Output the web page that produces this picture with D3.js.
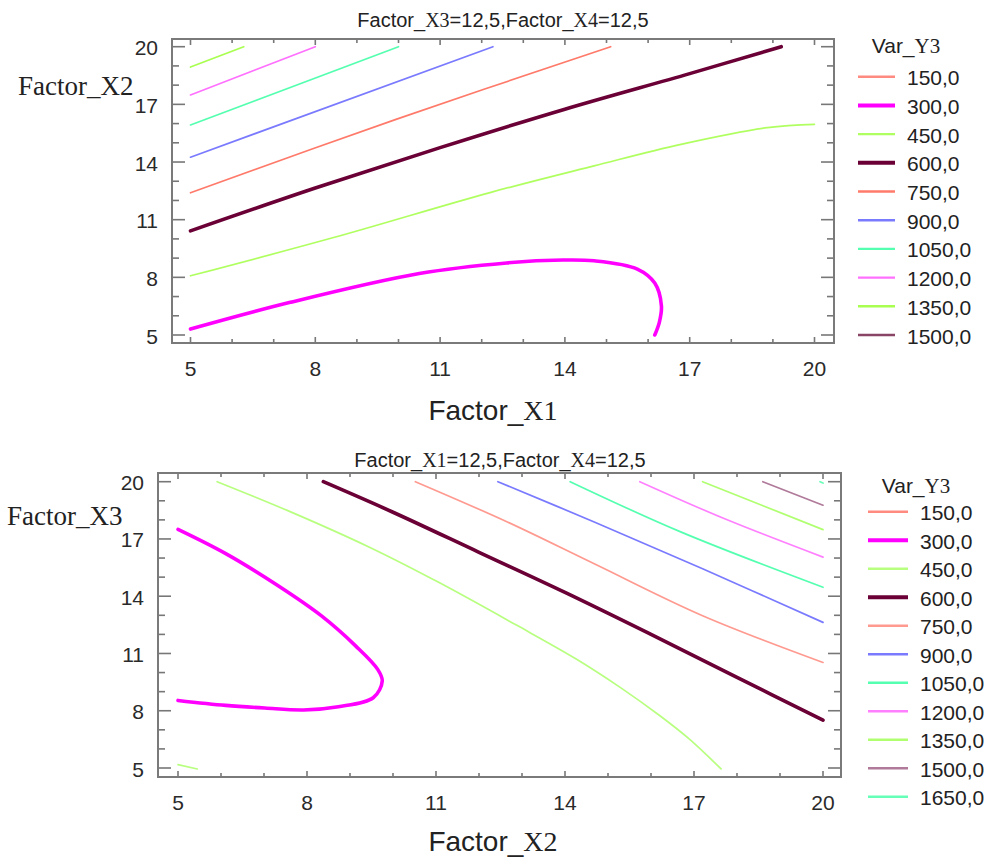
<!DOCTYPE html>
<html><head><meta charset="utf-8">
<script src="https://cdn.jsdelivr.net/npm/d3@7"></script>
<style>body{margin:0;background:#fff}</style></head>
<body>
<svg id="c" width="992" height="861"></svg>
<script>
// ---------- data ----------
const tickValues = [5, 8, 11, 14, 17, 20];
const levelsTop = [150, 300, 450, 600, 750, 900, 1050, 1200, 1350, 1500];
const colorsTop = ["#ff8a80", "#ff00ff", "#b0ff60", "#6a0035", "#ff7a6a", "#7a7aff", "#55ffb0", "#ff70ff", "#a8ff50", "#8a4466"];
const levelsBottom = [150, 300, 450, 600, 750, 900, 1050, 1200, 1350, 1500, 1650];
const colorsBottom = ["#ff8a80", "#ff00ff", "#b8ff80", "#6a0035", "#ff9a90", "#7a7aff", "#55ffb0", "#ff80ff", "#b0ff70", "#b07a9a", "#66ffb8"];

// Panel 1 (Factor_X1 vs Factor_X2) contour lines, [x1, x2]
const top300 = [[5, 5.31], [7.4, 6.7], [10.5, 8.2], [12.6, 8.75], [13.95, 8.9], [14.7, 8.86], [15.74, 8.43], [16.16, 7.7], [16.32, 6.52], [16.27, 5.66], [16.16, 5.0]];
const top450 = [[5, 8.08], [8.44, 10.07], [12.2, 12.41], [14.7, 13.8], [16.79, 14.92], [18.87, 15.79], [20, 15.96]];
const top600 = [[5, 10.42], [8, 12.65], [11, 14.75], [14, 16.75], [17, 18.6], [19.2, 20]];
const top750 = [[5, 12.4], [9.94, 16.22], [15.1, 20]];
const top900 = [[5, 14.25], [12.27, 20]];
const top1050 = [[5, 15.93], [10.0, 20]];
const top1200 = [[5, 17.49], [8.0, 20]];
const top1350 = [[5, 18.94], [6.28, 20]];

// Panel 2 (Factor_X2 vs Factor_X3) contour lines, [x2, x3]
const bot300 = [[5, 17.5], [6.11, 16.23], [7.32, 14.56], [8.33, 12.98], [9.13, 11.4], [9.64, 10.18], [9.75, 9.56], [9.54, 8.68], [8.73, 8.21], [7.92, 8.04], [7.02, 8.14], [6.11, 8.28], [5, 8.54]];
const bot450a = [[5, 5.18], [5.45, 4.95]];
const bot450b = [[5.91, 20], [7.62, 18.42], [9.44, 16.58], [11.05, 14.74], [12.86, 12.5], [14.27, 10.7], [15.3, 9.2], [16.2, 7.75], [16.9, 6.5], [17.63, 4.95]];
const bot600 = [[8.38, 20], [10, 18.4], [12, 16.3], [14, 14.2], [16, 12.0], [18, 9.75], [20, 7.51]];
const bot750 = [[10.52, 20], [12.66, 17.89], [14.68, 15.7], [17.2, 12.98], [20, 10.53]];
const bot900 = [[12.44, 20], [14.68, 17.89], [17.2, 15.44], [20, 12.63]];
const bot1050 = [[14.12, 20], [16.69, 17.37], [20, 14.47]];
const bot1200 = [[15.74, 20], [17.7, 18.07], [20, 16.05]];
const bot1350 = [[17.2, 20], [20, 17.49]];
const bot1500 = [[18.6, 20], [20, 18.77]];
const bot1650 = [[19.93, 20], [20, 19.93]];

const topLines = [[300, top300], [450, top450], [600, top600], [750, top750], [900, top900], [1050, top1050], [1200, top1200], [1350, top1350]];
const botLines = [[300, bot300], [450, bot450a], [450, bot450b], [600, bot600], [750, bot750], [900, bot900], [1050, bot1050], [1200, bot1200], [1350, bot1350], [1500, bot1500], [1650, bot1650]];

// ---------- drawing ----------
const svg = d3.select("#c");
const SANS = "'Liberation Sans', Arial, sans-serif";
const SERIF = "'Liberation Serif', 'Times New Roman', serif";

function mixedText(g, x, y, parts, size, anchor, color) {
  const t = g.append("text").attr("x", x).attr("y", y)
    .attr("text-anchor", anchor).attr("font-size", size).attr("fill", color || "#222");
  parts.forEach(([s, serif]) => t.append("tspan").attr("font-family", serif ? SERIF : SANS).text(s));
  return t;
}

function panel(cfg) {
  const g = svg.append("g");
  const x = d3.scaleLinear().domain([5, 20]).range([cfg.xa, cfg.xb]);
  const y = d3.scaleLinear().domain([5, 20]).range([cfg.ya, cfg.yb]);
  const id = "clip" + cfg.name;
  svg.append("clipPath").attr("id", id).append("rect")
    .attr("x", cfg.fx0).attr("y", cfg.fy0).attr("width", cfg.fx1 - cfg.fx0).attr("height", cfg.fy1 - cfg.fy0);

  const minor = d3.range(5, 21);
  const tk = g.append("g").attr("stroke", "#777").attr("stroke-width", 1.6);
  minor.forEach(v => {
    const major = tickValues.includes(v);
    const L = major ? 13 : 7;
    tk.append("line").attr("x1", cfg.fx0).attr("x2", cfg.fx0 + L).attr("y1", y(v)).attr("y2", y(v));
    tk.append("line").attr("x1", cfg.fx1).attr("x2", cfg.fx1 - L).attr("y1", y(v)).attr("y2", y(v));
    const S = major ? 6 : 4;
    tk.append("line").attr("x1", x(v)).attr("x2", x(v)).attr("y1", cfg.fy1).attr("y2", cfg.fy1 - S);
    tk.append("line").attr("x1", x(v)).attr("x2", x(v)).attr("y1", cfg.fy0).attr("y2", cfg.fy0 + S);
  });

  g.append("rect").attr("x", cfg.fx0).attr("y", cfg.fy0)
    .attr("width", cfg.fx1 - cfg.fx0).attr("height", cfg.fy1 - cfg.fy0)
    .attr("fill", "none").attr("stroke", "#7a7a7a").attr("stroke-width", 2);

  // tick labels
  tickValues.forEach(v => {
    g.append("text").attr("x", x(v)).attr("y", cfg.fy1 + 25).attr("text-anchor", "middle")
      .attr("dominant-baseline", "central").attr("font-family", SANS).attr("font-size", 21).attr("fill", "#2a2a2a").text(v);
    g.append("text").attr("x", cfg.fx0 - 14).attr("y", y(v) + 1).attr("text-anchor", "end")
      .attr("dominant-baseline", "central").attr("font-family", SANS).attr("font-size", 21).attr("fill", "#2a2a2a").text(v);
  });

  // contour lines
  const line = d3.line().x(d => x(d[0])).y(d => y(d[1])).curve(d3.curveCatmullRom.alpha(0.5));
  const lg = g.append("g").attr("clip-path", `url(#${id})`);
  cfg.lines.forEach(([lev, pts]) => {
    const i = cfg.levels.indexOf(lev);
    const thick = lev === 300 || lev === 600;
    lg.append("path").attr("d", line(pts)).attr("fill", "none")
      .attr("stroke", cfg.colors[i]).attr("stroke-width", thick ? 3.6 : 1.7)
      .attr("stroke-linecap", "round").attr("stroke-linejoin", "round");
  });

  // titles
  mixedText(g, cfg.titleX, cfg.titleY, cfg.title, 20, "middle", "#222");
  mixedText(g, cfg.xtX, cfg.xtY, cfg.xTitle, 28, "middle", "#222");
  g.append("text").attr("x", cfg.ytX).attr("y", cfg.ytY).attr("font-family", SERIF)
    .attr("font-size", 27).attr("fill", "#222").text(cfg.yTitle);

  // legend
  mixedText(g, cfg.lgX + 48, cfg.lgTitleY, [["Var_", false], ["Y3", true]], 21, "middle", "#222");
  cfg.levels.forEach((lev, i) => {
    const yy = cfg.lgY0 + cfg.lgStep * i;
    const thick = lev === 300 || lev === 600;
    g.append("line").attr("x1", cfg.lgX).attr("x2", cfg.lgX + cfg.lgLen).attr("y1", yy).attr("y2", yy)
      .attr("stroke", cfg.colors[i]).attr("stroke-width", thick ? 4 : 2.4);
    g.append("text").attr("x", cfg.lgX + cfg.lgLen + 12).attr("y", yy + 1).attr("dominant-baseline", "central")
      .attr("font-family", SANS).attr("font-size", 21).attr("fill", "#222").text(d3.format(".1f")(lev).replace(".", ","));
  });
}

panel({
  name: "A", fx0: 172, fx1: 834, fy0: 39, fy1: 343,
  xa: 190.5, xb: 814.5, ya: 335, yb: 46.7,
  lines: topLines, levels: levelsTop, colors: colorsTop,
  title: [["Factor_", false], ["X3", true], ["=12,5,Factor_", false], ["X4", true], ["=12,5", false]],
  titleX: 503, titleY: 27,
  xTitle: [["Factor_", false], ["X1", true]], xtX: 493, xtY: 420,
  yTitle: "Factor_X2", ytX: 18, ytY: 95,
  lgX: 858, lgLen: 37, lgTitleY: 53, lgY0: 76.7, lgStep: 28.7
});

panel({
  name: "B", fx0: 158, fx1: 841, fy0: 473, fy1: 777,
  xa: 178, xb: 823, ya: 768, yb: 481.7,
  lines: botLines, levels: levelsBottom, colors: colorsBottom,
  title: [["Factor_", false], ["X1", true], ["=12,5,Factor_", false], ["X4", true], ["=12,5", false]],
  titleX: 500, titleY: 467,
  xTitle: [["Factor_", false], ["X2", true]], xtX: 493, xtY: 851,
  yTitle: "Factor_X3", ytX: 7, ytY: 525,
  lgX: 868, lgLen: 40, lgTitleY: 493, lgY0: 511.7, lgStep: 28.5
});
</script>
</body></html>
